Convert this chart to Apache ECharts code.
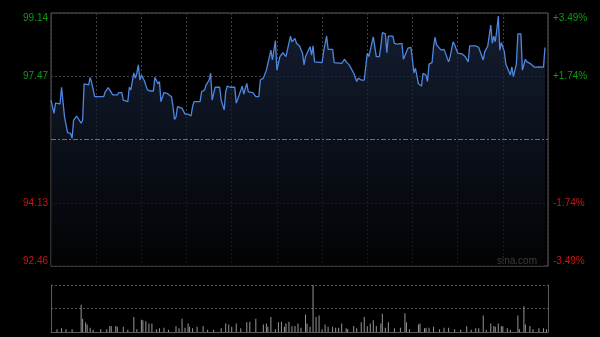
<!DOCTYPE html>
<html>
<head>
<meta charset="utf-8">
<script src="https://cdn.jsdelivr.net/npm/echarts@6/dist/echarts.min.js"></script>
<style>
html,body{margin:0;padding:0;background:#000;}
#c{width:600px;height:337px;}
</style>
</head>
<body>
<div id="c"></div>
<script>
// ---- data ----
const priceMinutes = [0,2,3,6,7,8,9,10,11,13,14,15,17,18,20,21,22,23,25,26,27,28,29,35,36,38,39,41,44,45,47,48,51,52,53,55,56,57,58,59,60,62,64,66,
68,69,71,72,73,75,77,78,80,81,82,83,84,87,88,89,91,93,94,95,99,100,102,103,105,106,107,108,109,112,113,115,116,117,119,122,123,124,125,127,128,
130,131,134,136,138,139,141,142,143,144,146,147,149,150,152,153,154,156,157,159,160,162,163,165,167,168,169,172,173,174,175,176,180,181,183,184,187,188,193,194,
195,196,198,199,201,203,204,206,208,210,211,212,214,216,218,219,220,222,223,224,227,228,230,233,234,237,239,240,241,242,244,246,247,249,250,251,253,254,255,256,259,261,
262,264,265,267,268,270,273,275,276,277,278,282,284,285,287,288,289,290,292,293,294,295,296,297,298,299,301,302,303,305,306,307,308,309,310,312,313,315,316,318,319,321,324,327,328];
const prices = [96.84,96.49,96.76,96.74,97.18,97.18,96.39,96.37,95.98,95.96,95.83,96.31,96.42,96.40,96.23,96.31,97.27,97.24,97.24,97.44,97.30,97.33,96.93,96.93,97.06,97.17,97.13,96.98,96.98,97.04,97.04,96.84,96.80,97.18,97.11,97.56,97.42,97.55,97.77,97.37,97.50,97.35,97.11,97.08,
97.08,97.44,97.27,97.33,96.80,97.04,97.02,96.98,96.93,96.67,96.33,96.39,96.67,96.62,96.55,96.47,96.47,96.42,96.67,96.80,96.80,97.06,97.11,97.24,97.37,97.55,96.84,96.89,97.18,97.18,96.84,96.58,97.06,97.21,97.18,97.18,96.76,96.76,96.98,97.21,97.00,
97.28,97.06,97.04,96.93,96.93,97.37,97.42,97.46,97.63,97.68,98.16,97.90,98.41,97.63,97.99,97.96,98.09,97.99,97.99,98.53,98.38,98.47,98.34,98.27,98.08,97.77,97.99,98.25,98.03,98.27,97.85,97.83,97.83,98.12,98.53,98.18,98.18,97.83,97.81,97.77,
97.92,97.85,97.77,97.72,97.55,97.33,97.42,97.37,97.37,98.08,97.99,97.94,98.51,97.99,97.99,98.25,98.62,98.59,98.09,98.53,98.53,98.34,98.32,98.34,97.92,98.21,98.23,97.90,97.56,97.68,97.27,97.21,97.55,97.50,97.33,97.79,97.83,98.25,98.50,98.30,98.16,98.18,
98.16,97.85,97.99,98.38,98.30,98.08,98.06,97.99,97.94,97.85,98.27,98.27,98.23,98.21,97.90,98.12,98.14,98.27,98.82,98.34,98.53,98.38,98.69,99.06,98.16,98.36,98.12,97.79,97.74,97.50,97.72,97.46,97.46,97.79,98.59,98.59,97.63,97.92,97.85,97.81,97.77,97.71,97.72,97.71,98.23];
const volMinutes = [4,7,10,14,20,21,23,24,26,28,33,37,39,40,43,44,48,51,55,57,60,61,63,65,67,70,72,75,78,83,85,87,89,91,92,94,97,101,104,108,113,116,118,120,123,126,130,132,136,141,143,144,146,149,151,153,155,156,158,160,162,164,
166,169,170,172,174,176,178,180,182,184,187,189,191,193,196,197,201,203,206,208,210,212,214,216,219,220,222,224,228,232,235,236,238,244,245,248,249,251,254,258,261,264,268,272,276,279,282,284,287,289,292,294,295,297,299,300,303,305,310,311,314,315,318,320,324,327,329];
const volumes = [6,8,6,6,58,28,21,16,9,5,6,6,12,13,13,11,11,5,32,6,26,25,23,18,18,6,8,9,5,13,8,28,9,18,11,8,11,13,5,5,8,18,16,11,18,8,21,22,28,16,18,11,32,6,21,22,11,18,22,12,13,18,
9,37,18,11,100,32,35,6,16,11,11,9,9,18,8,6,13,8,21,32,12,18,25,13,18,39,9,21,8,9,40,21,6,16,18,8,9,9,11,6,9,9,6,5,12,5,8,8,35,5,18,13,11,18,12,12,8,5,35,6,55,16,13,6,8,8,6];
const prevClose = 95.80;
const priceMin = 92.46, priceMax = 99.14;
const leftTickLabels = ['92.46','94.13','','97.47','99.14'];
const rightTickLabels = ['-3.49%','-1.74%','','+1.74%','+3.49%'];
const sessionMinutes = 330, gridStep = 30;

const GREEN = '#119a11', RED = '#c81414';
const lineData = prices.map((p,i)=>[priceMinutes[i], p]);
const volData = volumes.map((v,i)=>[volMinutes[i], v]);

const chart = echarts.init(document.getElementById('c'), null, {renderer:'canvas'});
chart.setOption({
  animation:false,
  backgroundColor:'#000',
  grid:[
    {left:51, top:13, width:497, height:253, show:true, borderColor:'#5c5c5c', borderWidth:1, backgroundColor:'transparent'},
    {left:51, top:285, width:497, height:47, show:false}
  ],
  xAxis:[
    {type:'value', gridIndex:0, min:0, max:sessionMinutes, interval:gridStep,
     axisLine:{show:false}, axisTick:{show:false}, axisLabel:{show:false},
     splitLine:{show:true, lineStyle:{color:'#3e3e3e', type:[2,2], width:1}}},
    {type:'value', gridIndex:1, min:0, max:sessionMinutes, interval:gridStep,
     axisLine:{show:true, onZero:false, lineStyle:{color:'#5c5c5c', width:1}}, axisTick:{show:false}, axisLabel:{show:false},
     splitLine:{show:false}}
  ],
  yAxis:[
    {type:'value', gridIndex:0, min:priceMin, max:priceMax, interval:(priceMax-priceMin)/4, position:'left',
     axisLine:{show:false}, axisTick:{show:false},
     axisLabel:{show:true, margin:3, fontSize:10, fontFamily:'Liberation Sans, Arial, sans-serif',
       verticalAlignMinLabel:'bottom', verticalAlignMaxLabel:'top',
       formatter:(v,i)=>leftTickLabels[i] || '',
       color:(v,i)=>(v>prevClose?GREEN:RED)},
     splitLine:{show:true, lineStyle:{color:['#3e3e3e','#3e3e3e','transparent','#3e3e3e','#3e3e3e'], type:[2,2], width:1}}},
    {type:'value', gridIndex:0, min:priceMin, max:priceMax, interval:(priceMax-priceMin)/4, position:'right',
     axisLine:{show:false}, axisTick:{show:false},
     axisLabel:{show:true, margin:5, fontSize:10, fontFamily:'Liberation Sans, Arial, sans-serif',
       verticalAlignMinLabel:'bottom', verticalAlignMaxLabel:'top',
       formatter:(v,i)=>rightTickLabels[i] || '',
       color:(v,i)=>(v>prevClose?GREEN:RED)},
     splitLine:{show:false}},
    {type:'value', gridIndex:1, min:0, max:100, interval:50, position:'left',
     axisLine:{show:true, lineStyle:{color:'#5c5c5c'}}, axisTick:{show:false}, axisLabel:{show:false},
     splitLine:{show:true, lineStyle:{color:['transparent','#555','#555'], type:[2,2], width:1}}},
    {type:'value', gridIndex:1, min:0, max:100, interval:50, position:'right',
     axisLine:{show:true, lineStyle:{color:'#5c5c5c'}}, axisTick:{show:false}, axisLabel:{show:false},
     splitLine:{show:false}}
  ],
  series:[
    {type:'line', xAxisIndex:0, yAxisIndex:0, data:lineData, symbol:'none', smooth:false,
     lineStyle:{color:'#4f86df', width:1.3},
     areaStyle:{origin:'start', color:new echarts.graphic.LinearGradient(0,0,0,1,[
       {offset:0, color:'#1c2a46'},{offset:1, color:'#030406'}])},
     markLine:{silent:true, symbol:'none', label:{show:false},
       lineStyle:{color:'#707070', type:[5,2,2,2], width:1.2},
       data:[{yAxis:prevClose}]}},
    {type:'bar', xAxisIndex:1, yAxisIndex:2, data:volData, barWidth:1,
     itemStyle:{color:'#969696'}}
  ],
  graphic:[
    {type:'text', right:63, top:256, style:{text:'sina.com', fill:'#b8b8b8', font:'10px "Liberation Sans", Arial, sans-serif'}}
  ]
});
</script>
</body>
</html>
